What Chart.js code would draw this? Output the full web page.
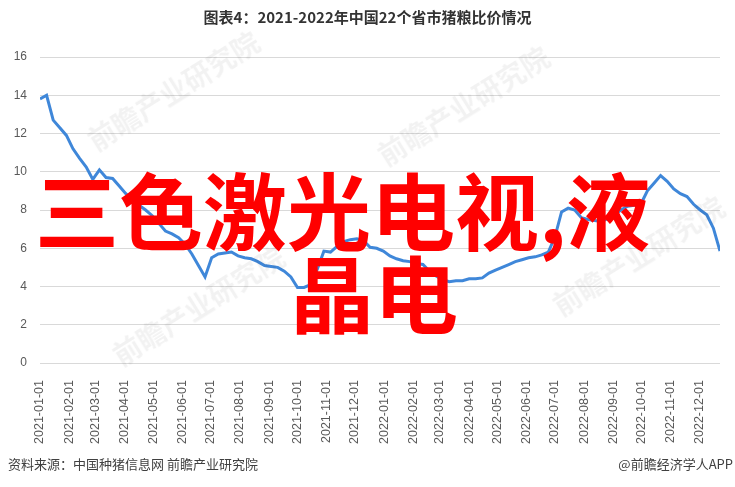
<!DOCTYPE html>
<html>
<head>
<meta charset="utf-8">
<script src="https://cdn.jsdelivr.net/npm/chart.js@4"></script>
<style>
  html, body { margin: 0; padding: 0; background: #fff; }
  #wrap { position: relative; width: 735px; height: 487px; overflow: hidden; font-family: "Noto Sans CJK SC", "Liberation Sans", sans-serif; }
  #chart { position: absolute; left: 0; top: 0; }
  .title { position: absolute; left: 0; width: 735px; top: 6px; text-align: center; font-weight: bold; font-size: 15px; color: #333; }
  .src { position: absolute; left: 8px; top: 454px; font-size: 13px; color: #404040; }
  .app { position: absolute; right: 2px; top: 454px; font-size: 13px; color: #404040; }
  .wm { position: absolute; font-size: 28px; font-weight: bold; color: rgba(0,0,0,0.05); transform: rotate(-32deg); white-space: nowrap; }
  .big { position: absolute; font-weight: bold; font-size: 84px; line-height: 1; color: #ff0000; white-space: nowrap; }
</style>
</head>
<body>
<div id="wrap">
  <canvas id="chart" width="735" height="487"></canvas>
  <div class="wm" style="left:75px;top:70px;">前瞻产业研究院</div>
  <div class="wm" style="left:100px;top:285px;">前瞻产业研究院</div>
  <div class="wm" style="left:365px;top:85px;">前瞻产业研究院</div>
  <div class="wm" style="left:540px;top:235px;">前瞻产业研究院</div>
  <div class="title">图表4：2021-2022年中国22个省市猪粮比价情况</div>
  <div class="big" style="left:35px;top:166px;">三色激光电视,液</div>
  <div class="big" style="left:290px;top:249px;">晶电</div>
  <div class="src">资料来源：中国种猪信息网 前瞻产业研究院</div>
  <div class="app">@前瞻经济学人APP</div>
</div>
<script>
// weekly pig-grain price ratio, first week 2021-01-01
const firstWeek = '2021-01-01';
const ratio = [
  13.8, 14.0, 12.7, 12.3, 11.9, 11.2, 10.7, 10.25, 9.6, 10.1,
  9.7, 9.65, 9.25, 8.85, 8.55, 8.25, 8.0, 7.7, 7.3, 6.9,
  6.75, 6.55, 6.2, 5.7, 5.1, 4.5, 5.5, 5.7, 5.75, 5.8,
  5.6, 5.5, 5.45, 5.3, 5.1, 5.05, 5.0, 4.8, 4.5, 3.95,
  3.95, 4.1, 4.9, 5.85, 5.8, 6.1, 6.35, 6.45, 6.5, 6.4,
  6.05, 6.0, 5.85, 5.6, 5.45, 5.35, 5.3, 5.2, 5.15, 4.8,
  4.55, 4.35, 4.25, 4.3, 4.3, 4.4, 4.4, 4.45, 4.7, 4.85,
  5.0, 5.15, 5.3, 5.4, 5.5, 5.55, 5.65, 5.8, 6.6, 7.9,
  8.1, 8.0, 7.6, 7.5, 7.45, 7.4, 7.55, 7.75, 8.0, 8.2,
  8.25, 8.3, 9.0, 9.4, 9.8, 9.5, 9.1, 8.85, 8.7, 8.3,
  8.0, 7.75, 7.05, 5.85
];
const monthTicks = [
  '2021-01-01', '2021-02-01', '2021-03-01', '2021-04-01', '2021-05-01', '2021-06-01',
  '2021-07-01', '2021-08-01', '2021-09-01', '2021-10-01', '2021-11-01', '2021-12-01',
  '2022-01-01', '2022-02-01', '2022-03-01', '2022-04-01', '2022-05-01', '2022-06-01',
  '2022-07-01', '2022-08-01', '2022-09-01', '2022-10-01', '2022-11-01', '2022-12-01'
];
const yTicks = [0, 2, 4, 6, 8, 10, 12, 14, 16];

const DAY = 86400000;
const t0 = Date.parse(firstWeek + 'T00:00:00Z');
const dayOf = s => Math.round((Date.parse(s + 'T00:00:00Z') - t0) / DAY);

const points = ratio.map((v, i) => ({ x: i * 7, y: v }));
const tickDays = monthTicks.map(dayOf);
const labelByDay = {};
monthTicks.forEach((s, i) => { labelByDay[tickDays[i]] = s; });

new Chart(document.getElementById('chart'), {
  type: 'line',
  data: {
    datasets: [{
      data: points,
      borderColor: '#3f87d9',
      borderWidth: 3,
      pointRadius: 0,
      tension: 0,
      fill: false
    }]
  },
  options: {
    responsive: false,
    animation: false,
    layout: { padding: { top: 57, right: 15, left: 0, bottom: 0 } },
    plugins: { legend: { display: false }, tooltip: { enabled: false }, title: { display: false } },
    scales: {
      x: {
        type: 'linear',
        min: 0,
        max: points[points.length - 1].x,
        afterBuildTicks: s => { s.ticks = tickDays.map(v => ({ value: v })); },
        afterFit: s => { s.height = 124; },
        grid: { display: false },
        border: { display: false },
        ticks: {
          autoSkip: false,
          minRotation: 90,
          maxRotation: 90,
          padding: 9,
          color: '#595959',
          font: { family: 'Liberation Sans', size: 12.5 },
          callback: v => labelByDay[v] || ''
        }
      },
      y: {
        min: 0,
        max: 16,
        afterBuildTicks: s => { s.ticks = yTicks.map(v => ({ value: v })); },
        afterFit: s => { s.width = 40; },
        grid: { color: '#d9d9d9', drawTicks: false, lineWidth: 1 },
        border: { display: false },
        ticks: {
          padding: 13,
          color: '#595959',
          font: { family: 'Liberation Sans', size: 12 }
        }
      }
    }
  }
});
</script>
</body>
</html>
